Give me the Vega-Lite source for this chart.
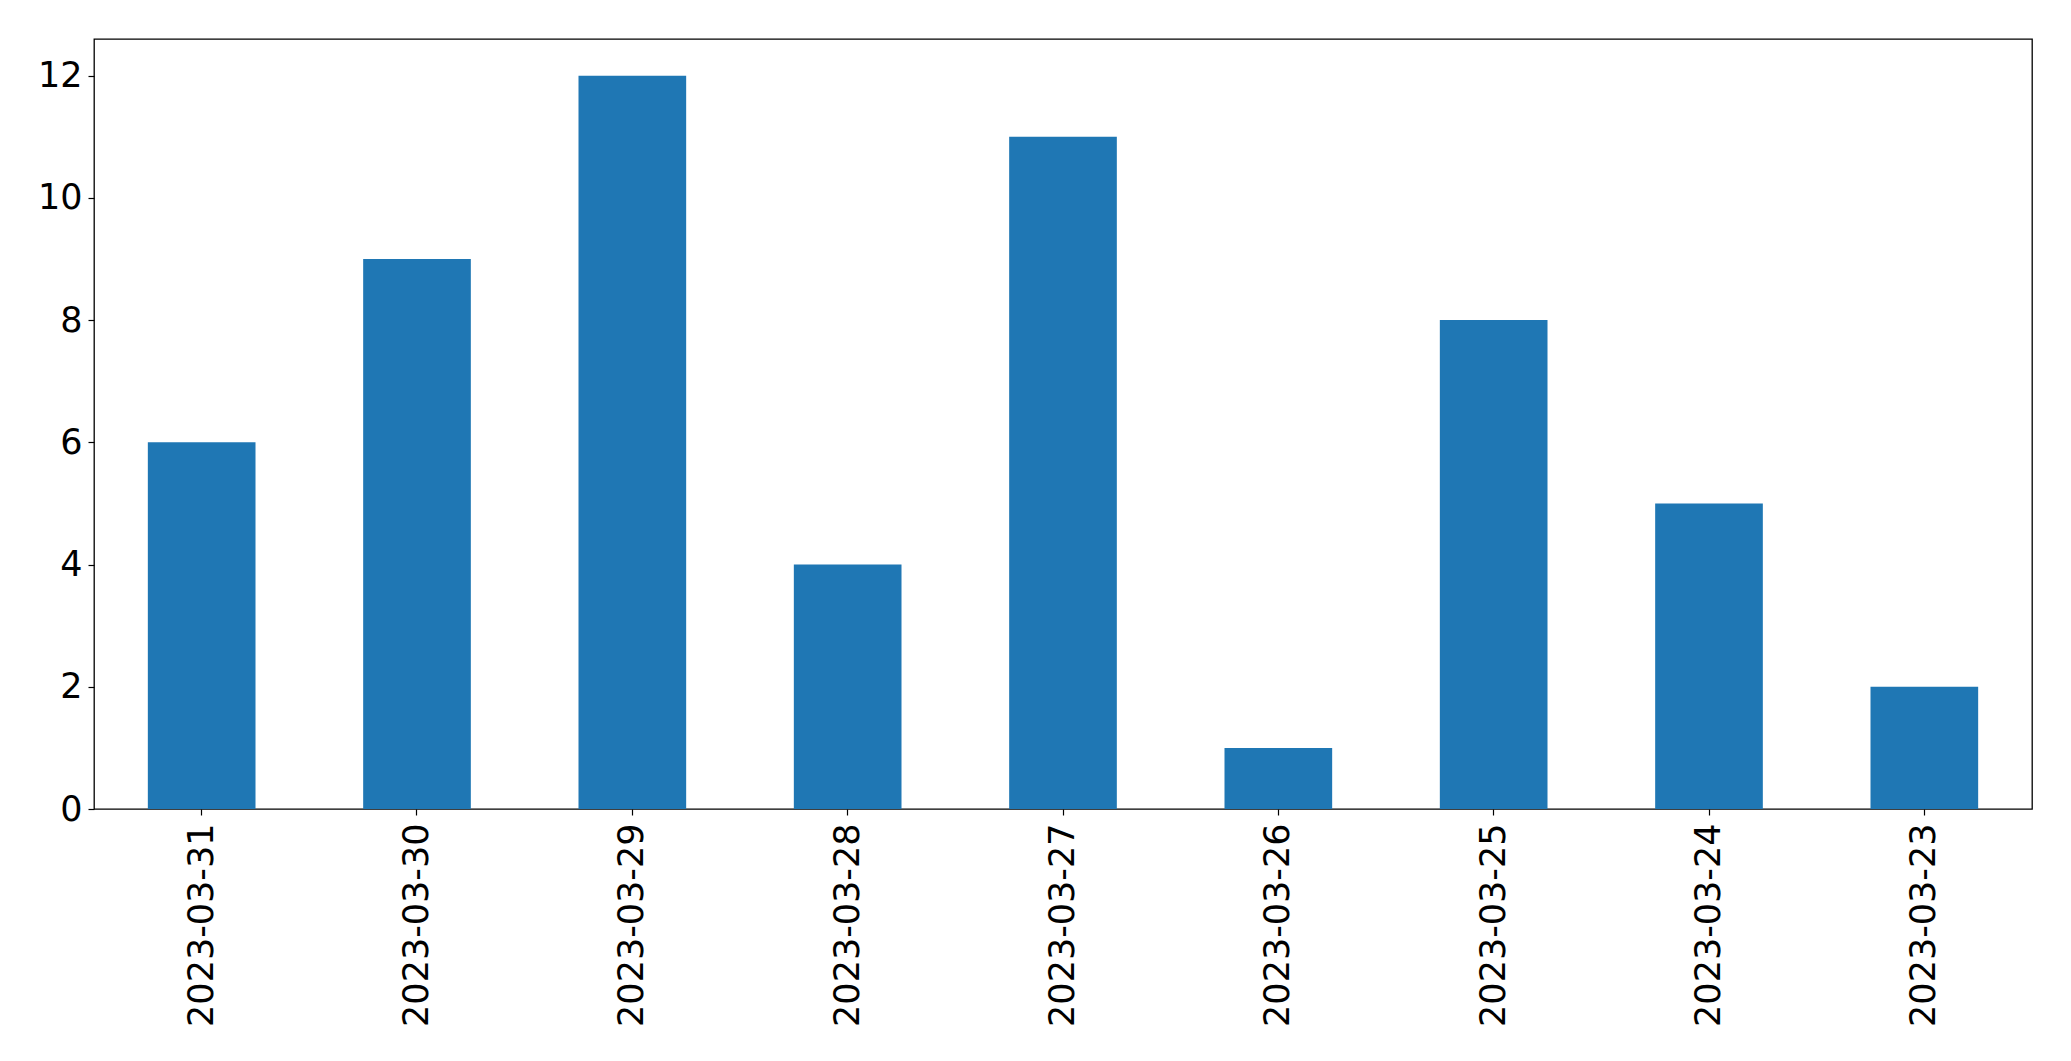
{
  "$schema": "https://vega.github.io/schema/vega-lite/v6.json",
  "width": 1938,
  "height": 770,
  "autosize": {"type": "none"},
  "padding": {"left": 94, "top": 39, "right": 39, "bottom": 252},
  "background": "white",
  "config": {
    "view": {"stroke": "black", "strokeWidth": 1.3},
    "axis": {
      "labelFont": "DejaVu Sans",
      "labelFontSize": 35,
      "labelColor": "black",
      "labelLimit": 0,
      "tickColor": "black",
      "tickSize": 6,
      "tickWidth": 1.2,
      "domain": false,
      "grid": false,
      "title": null
    }
  },
  "data": {
    "values": [
      {"date": "2023-03-31", "count": 6},
      {"date": "2023-03-30", "count": 9},
      {"date": "2023-03-29", "count": 12},
      {"date": "2023-03-28", "count": 4},
      {"date": "2023-03-27", "count": 11},
      {"date": "2023-03-26", "count": 1},
      {"date": "2023-03-25", "count": 8},
      {"date": "2023-03-24", "count": 5},
      {"date": "2023-03-23", "count": 2}
    ]
  },
  "mark": {"type": "bar", "color": "#1f77b4"},
  "encoding": {
    "x": {
      "field": "date",
      "type": "nominal",
      "sort": null,
      "scale": {"paddingInner": 0.5, "paddingOuter": 0.25},
      "axis": {"labelAngle": -90, "labelPadding": 8, "labelBaseline": "middle", "labelAlign": "right"}
    },
    "y": {
      "field": "count",
      "type": "quantitative",
      "scale": {"domain": [0, 12.6], "nice": false},
      "axis": {"values": [0, 2, 4, 6, 8, 10, 12], "labelPadding": 6}
    }
  }
}
